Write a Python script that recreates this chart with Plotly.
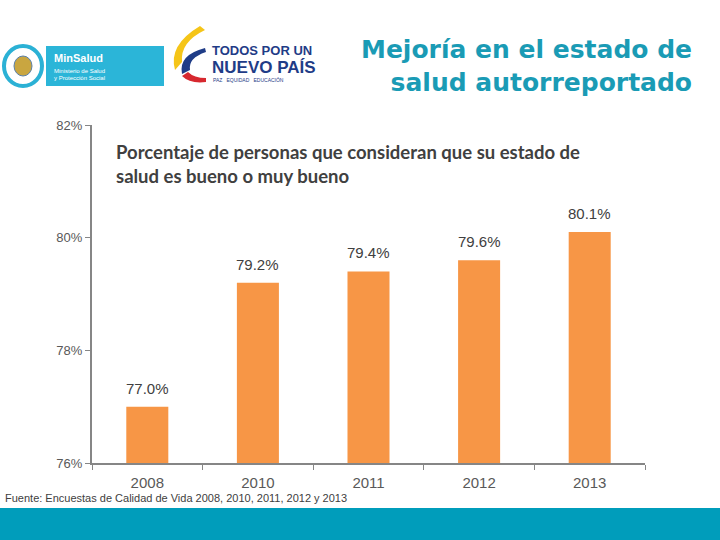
import plotly.graph_objects as go

years = ["2008", "2010", "2011", "2012", "2013"]
values = [77.0, 79.2, 79.4, 79.6, 80.1]
labels = ["77.0%", "79.2%", "79.4%", "79.6%", "80.1%"]
ytick_vals = [76, 78, 80, 82]
ytick_text = ["76%", "78%", "80%", "82%"]

L, R, T, B = 92, 75, 125, 77
W, H = 720, 540


def px_x(x):
    return (x - L) / (W - L - R)


def px_y(y):
    return (H - B - y) / (H - T - B)


fig = go.Figure()
fig.add_trace(go.Bar(
    x=years, y=values,
    marker=dict(color="#F79646", line=dict(width=0)),
    width=0.38, hoverinfo="skip",
))

for i, (v, lab) in enumerate(zip(values, labels)):
    fig.add_annotation(x=i, y=v, xref="x", yref="y", text=lab, showarrow=False,
                       yanchor="bottom", yshift=8,
                       font=dict(family="Arial", size=15, color="#404040"))

fig.update_layout(
    width=W, height=H, autosize=False,
    margin=dict(l=L, r=R, t=T, b=B, pad=0),
    paper_bgcolor="white", plot_bgcolor="white",
    showlegend=False,
    xaxis=dict(
        type="category", categoryorder="array", categoryarray=years,
        range=[-0.5, len(years) - 0.5], autorange=False,
        showline=True, linecolor="#868686", linewidth=2,
        ticks="outside", tickson="boundaries", ticklen=5, tickcolor="#868686",
        tickfont=dict(family="Arial", size=15, color="#595959"),
        ticklabelstandoff=5,
        showgrid=False, automargin=False,
    ),
    yaxis=dict(
        range=[76, 82], autorange=False, tickvals=ytick_vals, ticktext=ytick_text,
        showline=True, linecolor="#868686", linewidth=2,
        ticks="outside", ticklen=5, tickcolor="#868686",
        tickfont=dict(family="Arial", size=13, color="#595959"),
        showgrid=False, zeroline=False, automargin=False,
    ),
)

texts = [
    dict(x=694, y=66, text="<b>Mejoría en el estado de<br>salud autorreportado</b>", size=25,
         color="#1A9BB5", fam="DejaVu Sans", xa="right", align="right"),
    dict(x=114, y=164, text="<b>Porcentaje de personas que consideran que su estado de<br>salud es bueno o muy bueno</b>",
         size=18.5, color="#404040", fam="Lato", xa="left", align="left"),
    dict(x=3, y=498, text="Fuente: Encuestas de Calidad de Vida 2008, 2010, 2011, 2012 y 2013",
         size=11, color="#404040", fam="Liberation Sans Narrow, Arial", xa="left", align="left"),
    dict(x=52, y=58, text="<b>MinSalud</b>", size=11, color="white", fam="Arial", xa="left", align="left"),
    dict(x=52, y=71, text="Ministerio de Salud", size=6, color="white", fam="Arial", xa="left", align="left"),
    dict(x=52, y=78, text="y Protección Social", size=6, color="white", fam="Arial", xa="left", align="left"),
    dict(x=210, y=50, text="<b>TODOS POR UN</b>", size=13, color="#1F3C87", fam="Arial", xa="left", align="left"),
    dict(x=210, y=67, text="<b>NUEVO PAÍS</b>", size=17, color="#1F3C87", fam="Arial", xa="left", align="left"),
    dict(x=211, y=80, text="PAZ   EQUIDAD   EDUCACIÓN", size=5, color="#1F3C87", fam="Arial", xa="left", align="left"),
]
for e in texts:
    fig.add_annotation(x=px_x(e["x"]), y=px_y(e["y"]), xref="paper", yref="paper",
                       text=e["text"], showarrow=False, xanchor=e["xa"], yanchor="middle",
                       align=e["align"],
                       font=dict(family=e["fam"], size=e["size"], color=e["color"]))

shapes = []
shapes.append(dict(type="rect", xref="paper", yref="paper",
                   x0=px_x(0), x1=px_x(720), y0=px_y(540), y1=px_y(508),
                   fillcolor="#009DBB", line=dict(width=0), layer="below"))
shapes.append(dict(type="circle", xref="paper", yref="paper",
                   x0=px_x(4), x1=px_x(42), y0=px_y(86), y1=px_y(46),
                   fillcolor="white", line=dict(color="#2BB1D5", width=4)))
shapes.append(dict(type="circle", xref="paper", yref="paper",
                   x0=px_x(14), x1=px_x(32), y0=px_y(76), y1=px_y(56),
                   fillcolor="#C9A640", line=dict(color="#5A7FA8", width=1)))
shapes.append(dict(type="rect", xref="paper", yref="paper",
                   x0=px_x(46), x1=px_x(164), y0=px_y(86), y1=px_y(46),
                   fillcolor="#2BB5D8", line=dict(width=0)))
shapes.append(dict(type="path", xref="paper", yref="paper",
                   path=f"M {px_x(200)} {px_y(26)} Q {px_x(168)} {px_y(45)} {px_x(175)} {px_y(70)} L {px_x(182)} {px_y(62)} Q {px_x(180)} {px_y(42)} {px_x(205)} {px_y(30)} Z",
                   fillcolor="#F5C518", line=dict(width=0)))
shapes.append(dict(type="path", xref="paper", yref="paper",
                   path=f"M {px_x(205)} {px_y(48)} Q {px_x(178)} {px_y(55)} {px_x(182)} {px_y(74)} L {px_x(190)} {px_y(70)} Q {px_x(188)} {px_y(58)} {px_x(206)} {px_y(52)} Z",
                   fillcolor="#1F3C87", line=dict(width=0)))
shapes.append(dict(type="path", xref="paper", yref="paper",
                   path=f"M {px_x(182)} {px_y(76)} Q {px_x(190)} {px_y(84)} {px_x(206)} {px_y(82)} L {px_x(206)} {px_y(78)} Q {px_x(194)} {px_y(78)} {px_x(188)} {px_y(72)} Z",
                   fillcolor="#D7282F", line=dict(width=0)))
fig.update_layout(shapes=shapes)

fig.write_html("out.html", config={"displayModeBar": False},
               post_script="document.body.style.margin='0';")
